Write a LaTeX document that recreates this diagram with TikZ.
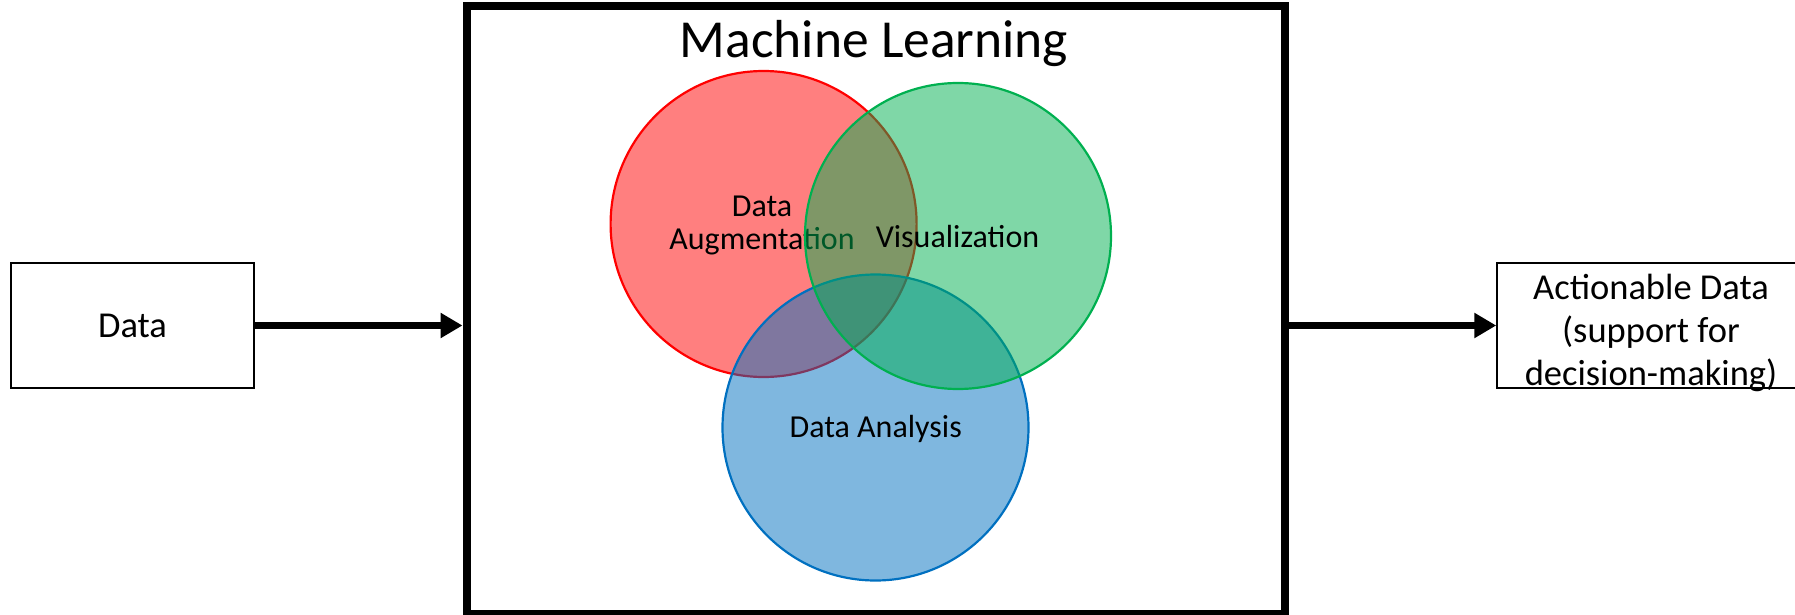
\documentclass[tikz,border=0pt]{standalone}
\usepackage{fontspec}
\setmainfont{Carlito}
\usetikzlibrary{arrows.meta}

\definecolor{vennred}{HTML}{FF0000}
\definecolor{venngreen}{HTML}{00B050}
\definecolor{vennblue}{HTML}{0070C0}

\tikzset{
  iobox/.style={draw=black, line width=1.5pt, minimum width=243pt,
    minimum height=125pt, inner sep=0pt},
  iotext/.style={font=\fontsize{36.5}{43}\selectfont, inner sep=0pt},
  frame/.style={draw=black, line width=8pt, inner sep=0pt},
  flow/.style={line width=7.5pt, -{Triangle[length=22pt,width=24pt]}},
  venn/.style={circle, minimum size=306pt, inner sep=0pt,
    line width=2.2pt, fill opacity=0.5},
  lbl/.style={font=\fontsize{32}{33}\selectfont, inner sep=0pt,
    align=center},
}

\begin{document}
\begin{tikzpicture}[x=1pt,y=-1pt]
\useasboundingbox (0,0) rectangle (1795,615);
\clip (0,0) rectangle (1795,615);

% outer frame with its title
\node[frame, minimum width=818.5pt, minimum height=608pt] (ml) at (875.75,310) {};
\node[font=\fontsize{53.5}{60}\selectfont, inner sep=0pt, anchor=base]
  (title) at (874,58) {Machine Learning};

% input and output boxes
\node[iobox, iotext] (data) at (132.5,325.5) {Data};
\node[iobox, minimum width=308pt] (act) at (1651,325.5) {};
\node[iotext, align=center] (acttxt) at (1651,333)
  {Actionable Data\\(support for\\decision-making)};

% Venn diagram: red, then blue, then green on top
\node[venn, draw=vennred, fill=vennred] (aug) at (763.6,224) {};
\node[lbl] (augtxt) at (762,225) {Data\\Augmentation};
\node[venn, draw=vennblue, fill=vennblue] (ana) at (875.5,427.5) {};
\node[venn, draw=venngreen, fill=venngreen] (vis) at (958,236) {};
\node[lbl] (vistxt) at (957.5,237) {Visualization};
\node[lbl] (anatxt) at (875.7,428.5) {Data Analysis};

% flow arrows
\draw[flow] (data.east) -- (data.east -| ml.west);
\draw[flow] (act.west -| ml.east) -- (act.west);
\end{tikzpicture}
\end{document}
